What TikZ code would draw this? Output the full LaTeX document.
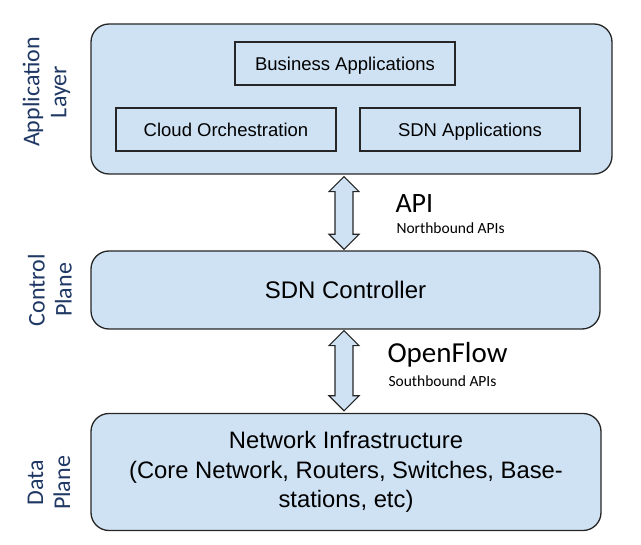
\documentclass[tikz,border=0pt]{standalone}
\usepackage{fontspec}
\setmainfont{Liberation Sans}
\newfontfamily\calib{Carlito}
\usetikzlibrary{calc}
\definecolor{boxblue}{HTML}{CFE2F3}
\definecolor{labelnavy}{HTML}{1F3864}
\tikzset{
  layerbox/.style={draw=black!85,line width=1.3pt,fill=boxblue,rounded corners=18pt},
  appbox/.style={draw=black!85,line width=1.2pt,minimum width=220pt,minimum height=43pt,text depth=0pt,font=\fontsize{18.5}{22}\selectfont},
  sidelabel/.style={rotate=90,align=center,text=labelnavy,font=\calib\fontsize{24}{27}\selectfont},
  fatarrow/.style={draw=black!85,line width=1.2pt,fill=boxblue,line join=miter}
}
\newcommand\fatarrow[2]{%
  \path[fatarrow] let \p1=(#1), \p2=(#2) in
    (\x1,\y1) -- (\x1+15pt,\y1-15pt) -- (\x1+9pt,\y1-15pt) -- (\x1+9pt,\y2+15pt)
    -- (\x1+15pt,\y2+15pt) -- (\x1,\y2) -- (\x1-15pt,\y2+15pt) -- (\x1-9pt,\y2+15pt)
    -- (\x1-9pt,\y1-15pt) -- (\x1-15pt,\y1-15pt) -- cycle;}
\begin{document}
\begin{tikzpicture}[x=1pt,y=-1pt]
\useasboundingbox (0,0) rectangle (641,545);
% layers
\node[layerbox,minimum width=521pt,minimum height=150pt] (app) at (351.5,99) {};
\node[layerbox,minimum width=509pt,minimum height=78pt,font=\fontsize{24}{28}\selectfont] (ctrl) at (345.5,290) {SDN Controller};
\node[layerbox,minimum width=510pt,minimum height=117pt,align=center,font=\fontsize{23.8}{29.5}\selectfont] (data) at (346,472)
  {Network Infrastructure\\(Core Network, Routers, Switches, Base-\\stations, etc)};
% applications
\node[appbox] (business) at (345,63.5) {Business Applications};
\node[appbox] (cloud) at (226,129.5) {Cloud Orchestration};
\node[appbox] (sdnapps) at (470,129.5) {SDN Applications};
% side labels
\node[sidelabel] (applabel) at (46.5,92) {Application\\Layer};
\node[sidelabel] (ctrllabel) at (50,290) {Control\\Plane};
\node[sidelabel] (datalabel) at (49,483) {Data\\Plane};
% interfaces
\coordinate (northtop) at ($(ctrl.north |- app.south)+(-1.5,2)$);
\coordinate (northbot) at ($(ctrl.north)+(-1.5,-1)$);
\coordinate (southtop) at ($(ctrl.south)+(-1.5,1)$);
\coordinate (southbot) at ($(ctrl.south |- data.north)+(-1.5,-2)$);
\fatarrow{northtop}{northbot}
\fatarrow{southtop}{southbot}
\node[anchor=west,font=\calib\fontsize{28}{30}\selectfont] (api) at (392,204) {API};
\node[anchor=west,font=\calib\fontsize{15.5}{17}\selectfont] (north) at (393,228) {Northbound APIs};
\node[anchor=west,font=\calib\fontsize{29}{31}\selectfont] (openflow) at (384,355) {OpenFlow};
\node[anchor=west,font=\calib\fontsize{15.5}{17}\selectfont] (south) at (385,381) {Southbound APIs};
\end{tikzpicture}
\end{document}
